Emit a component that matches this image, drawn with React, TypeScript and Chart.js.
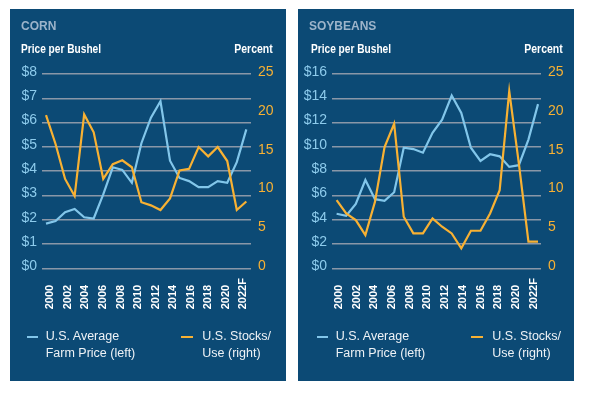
import React, { useEffect, useRef } from "react";
import { Chart, registerables } from "chart.js";

Chart.register(...registerables);

// ---- data ----
const years = [2000, 2001, 2002, 2003, 2004, 2005, 2006, 2007, 2008, 2009, 2010, 2011, 2012, 2013, 2014, 2015, 2016, 2017, 2018, 2019, 2020, 2021];
const tickYears = [2000, 2002, 2004, 2006, 2008, 2010, 2012, 2014, 2016, 2018, 2020, 2022];
const tickLabels = ["2000", "2002", "2004", "2006", "2008", "2010", "2012", "2014", "2016", "2018", "2020", "2022F"];

const cornPrice = [1.84, 1.95, 2.31, 2.44, 2.1, 2.05, 3.04, 4.16, 4.05, 3.52, 5.15, 6.2, 6.88, 4.43, 3.72, 3.59, 3.34, 3.34, 3.59, 3.52, 4.37, 5.72];
const cornStocks = [19.7, 16.0, 11.5, 9.3, 19.8, 17.5, 11.5, 13.4, 13.9, 13.0, 8.5, 8.1, 7.5, 9.0, 12.6, 12.8, 15.6, 14.4, 15.6, 13.8, 7.5, 8.6];
const soyPrice = [4.49, 4.33, 5.31, 7.27, 5.69, 5.55, 6.26, 9.93, 9.82, 9.52, 11.16, 12.24, 14.23, 12.79, 9.93, 8.84, 9.39, 9.22, 8.35, 8.49, 10.6, 13.52];
const soyStocks = [8.77, 7.06, 6.2, 4.28, 8.55, 15.6, 18.6, 6.63, 4.49, 4.49, 6.42, 5.35, 4.49, 2.57, 4.83, 4.83, 7.06, 10.05, 22.8, 13.5, 3.42, 3.42];

const priceLabel = "U.S. Average Farm Price (left)";
const stocksLabel = "U.S. Stocks/Use (right)";

// ---- styles ----
const BG = "#0c4a75";
const BLUE = "#82c6ea";
const BLUE_TXT = "#8dcbec";
const ORANGE = "#f8b133";
const GRID = "#8a97a8";
const TITLE = "#9db4ca";
const SANS = '"Liberation Sans", Arial, Helvetica, sans-serif';

const W = 276;
const H = 372;

type PanelProps = {
  title: string;
  price: number[];
  stocks: number[];
  yMax: number;
  yStep: number;
  dx: number;
  xMin: number;
  xMax: number;
  lMin: number;
  lMax: number;
};

const yearLabelPlugin = {
  id: "yearLabels",
  afterDraw(chart: any) {
    const s = chart.scales.xl;
    const ctx = chart.ctx;
    const base = chart.chartArea.bottom + 41;
    ctx.save();
    ctx.fillStyle = "#ffffff";
    ctx.font = `bold 11px ${SANS}`;
    ctx.textAlign = "left";
    ctx.textBaseline = "middle";
    tickYears.forEach((v, i) => {
      const x = s.getPixelForValue(v);
      ctx.save();
      ctx.translate(x, base);
      ctx.rotate(-Math.PI / 2);
      ctx.fillText(tickLabels[i], 0, 0);
      ctx.restore();
    });
    ctx.restore();
  },
};

function Panel(p: PanelProps) {
  const ref = useRef<HTMLCanvasElement>(null);
  useEffect(() => {
    if (!ref.current) return;
    const leftW = 32 + p.dx;
    const rightW = 35 - p.dx;
    const chart = new Chart(ref.current, {
      type: "line",
      data: {
        datasets: [
          {
            label: priceLabel,
            data: years.map((y, i) => ({ x: y, y: p.price[i] })),
            borderColor: BLUE,
            borderWidth: 2.2,
            pointRadius: 0,
            tension: 0,
            xAxisID: "x",
            yAxisID: "y",
            order: 2,
          },
          {
            label: stocksLabel,
            data: years.map((y, i) => ({ x: y, y: p.stocks[i] })),
            borderColor: ORANGE,
            borderWidth: 2.2,
            pointRadius: 0,
            tension: 0,
            xAxisID: "x",
            yAxisID: "y1",
            order: 1,
          },
        ],
      },
      options: {
        animation: false,
        responsive: false,
        maintainAspectRatio: false,
        layout: { padding: { top: 65, bottom: H - 259.3, left: 0, right: 0 } },
        plugins: { legend: { display: false }, tooltip: { enabled: false } },
        scales: {
          x: { type: "linear", display: false, min: p.xMin, max: p.xMax },
          xl: { type: "linear", axis: "x", display: false, min: p.lMin, max: p.lMax },
          y: {
            position: "left",
            min: 0,
            max: p.yMax,
            ticks: {
              stepSize: p.yStep,
              color: BLUE_TXT,
              font: { family: SANS, size: 14 },
              padding: 5,
              labelOffset: -2,
              callback: (v: any) => "$" + v,
            },
            grid: { color: GRID, lineWidth: 1.5, drawTicks: false },
            border: { display: false },
            afterFit: (s: any) => {
              s.width = leftW;
            },
          },
          y1: {
            position: "right",
            min: 0,
            max: 25,
            ticks: {
              stepSize: 5,
              color: ORANGE,
              font: { family: SANS, size: 14 },
              padding: 7,
              labelOffset: -2,
            },
            grid: { drawOnChartArea: false, drawTicks: false },
            border: { display: false },
            afterFit: (s: any) => {
              s.width = rightW;
            },
          },
        },
      } as any,
      plugins: [yearLabelPlugin],
    });
    return () => chart.destroy();
  }, []);

  const dx = p.dx;
  const legendText: React.CSSProperties = {
    position: "absolute",
    top: 318.8,
    font: `12.5px ${SANS}`,
    lineHeight: "17.5px",
    color: "#eef2f6",
    whiteSpace: "nowrap",
  };
  const head: React.CSSProperties = {
    position: "absolute",
    top: 33.2,
    font: `bold 13px ${SANS}`,
    lineHeight: 1,
    color: "#ffffff",
    whiteSpace: "nowrap",
  };
  return (
    <div style={{ position: "absolute", left: 0, top: 0, width: W, height: H, background: BG, overflow: "hidden" }}>
      <canvas ref={ref} width={W} height={H} style={{ position: "absolute", left: 0, top: 0, width: W, height: H }} />
      <div style={{ position: "absolute", left: 11, top: 11.3, font: `bold 12px ${SANS}`, lineHeight: 1, color: TITLE }}>{p.title}</div>
      <div style={{ ...head, left: 11 + dx, transform: "scaleX(0.78)", transformOrigin: "left center" }}>Price per Bushel</div>
      <div style={{ ...head, right: 13.3 - dx, transform: "scaleX(0.805)", transformOrigin: "right center" }}>Percent</div>
      <div style={{ position: "absolute", left: 16.7 + dx, top: 326.5, width: 11, height: 2, background: BLUE }} />
      <div style={{ ...legendText, left: 35.7 + dx }}>U.S. Average<br />Farm Price (left)</div>
      <div style={{ position: "absolute", left: 171 + dx, top: 326.5, width: 11.5, height: 2, background: ORANGE }} />
      <div style={{ ...legendText, left: 192.3 + dx }}>U.S. Stocks/<br />Use (right)</div>
    </div>
  );
}

export default function App() {
  return (
    <div style={{ position: "absolute", left: 0, top: 0, width: 591, height: 393, background: "#ffffff" }}>
      <div style={{ position: "absolute", left: 10, top: 9, width: W, height: H }}>
        <Panel title="CORN" price={cornPrice} stocks={cornStocks} yMax={8} yStep={1} dx={0}
          xMin={1999.58} xMax={2021.49} lMin={1999.055} lMax={2022.86} />
      </div>
      <div style={{ position: "absolute", left: 298, top: 9, width: W, height: H }}>
        <Panel title="SOYBEANS" price={soyPrice} stocks={soyStocks} yMax={16} yStep={2} dx={2}
          xMin={1999.52} xMax={2021.31} lMin={1999.23} lMax={2022.82} />
      </div>
    </div>
  );
}
